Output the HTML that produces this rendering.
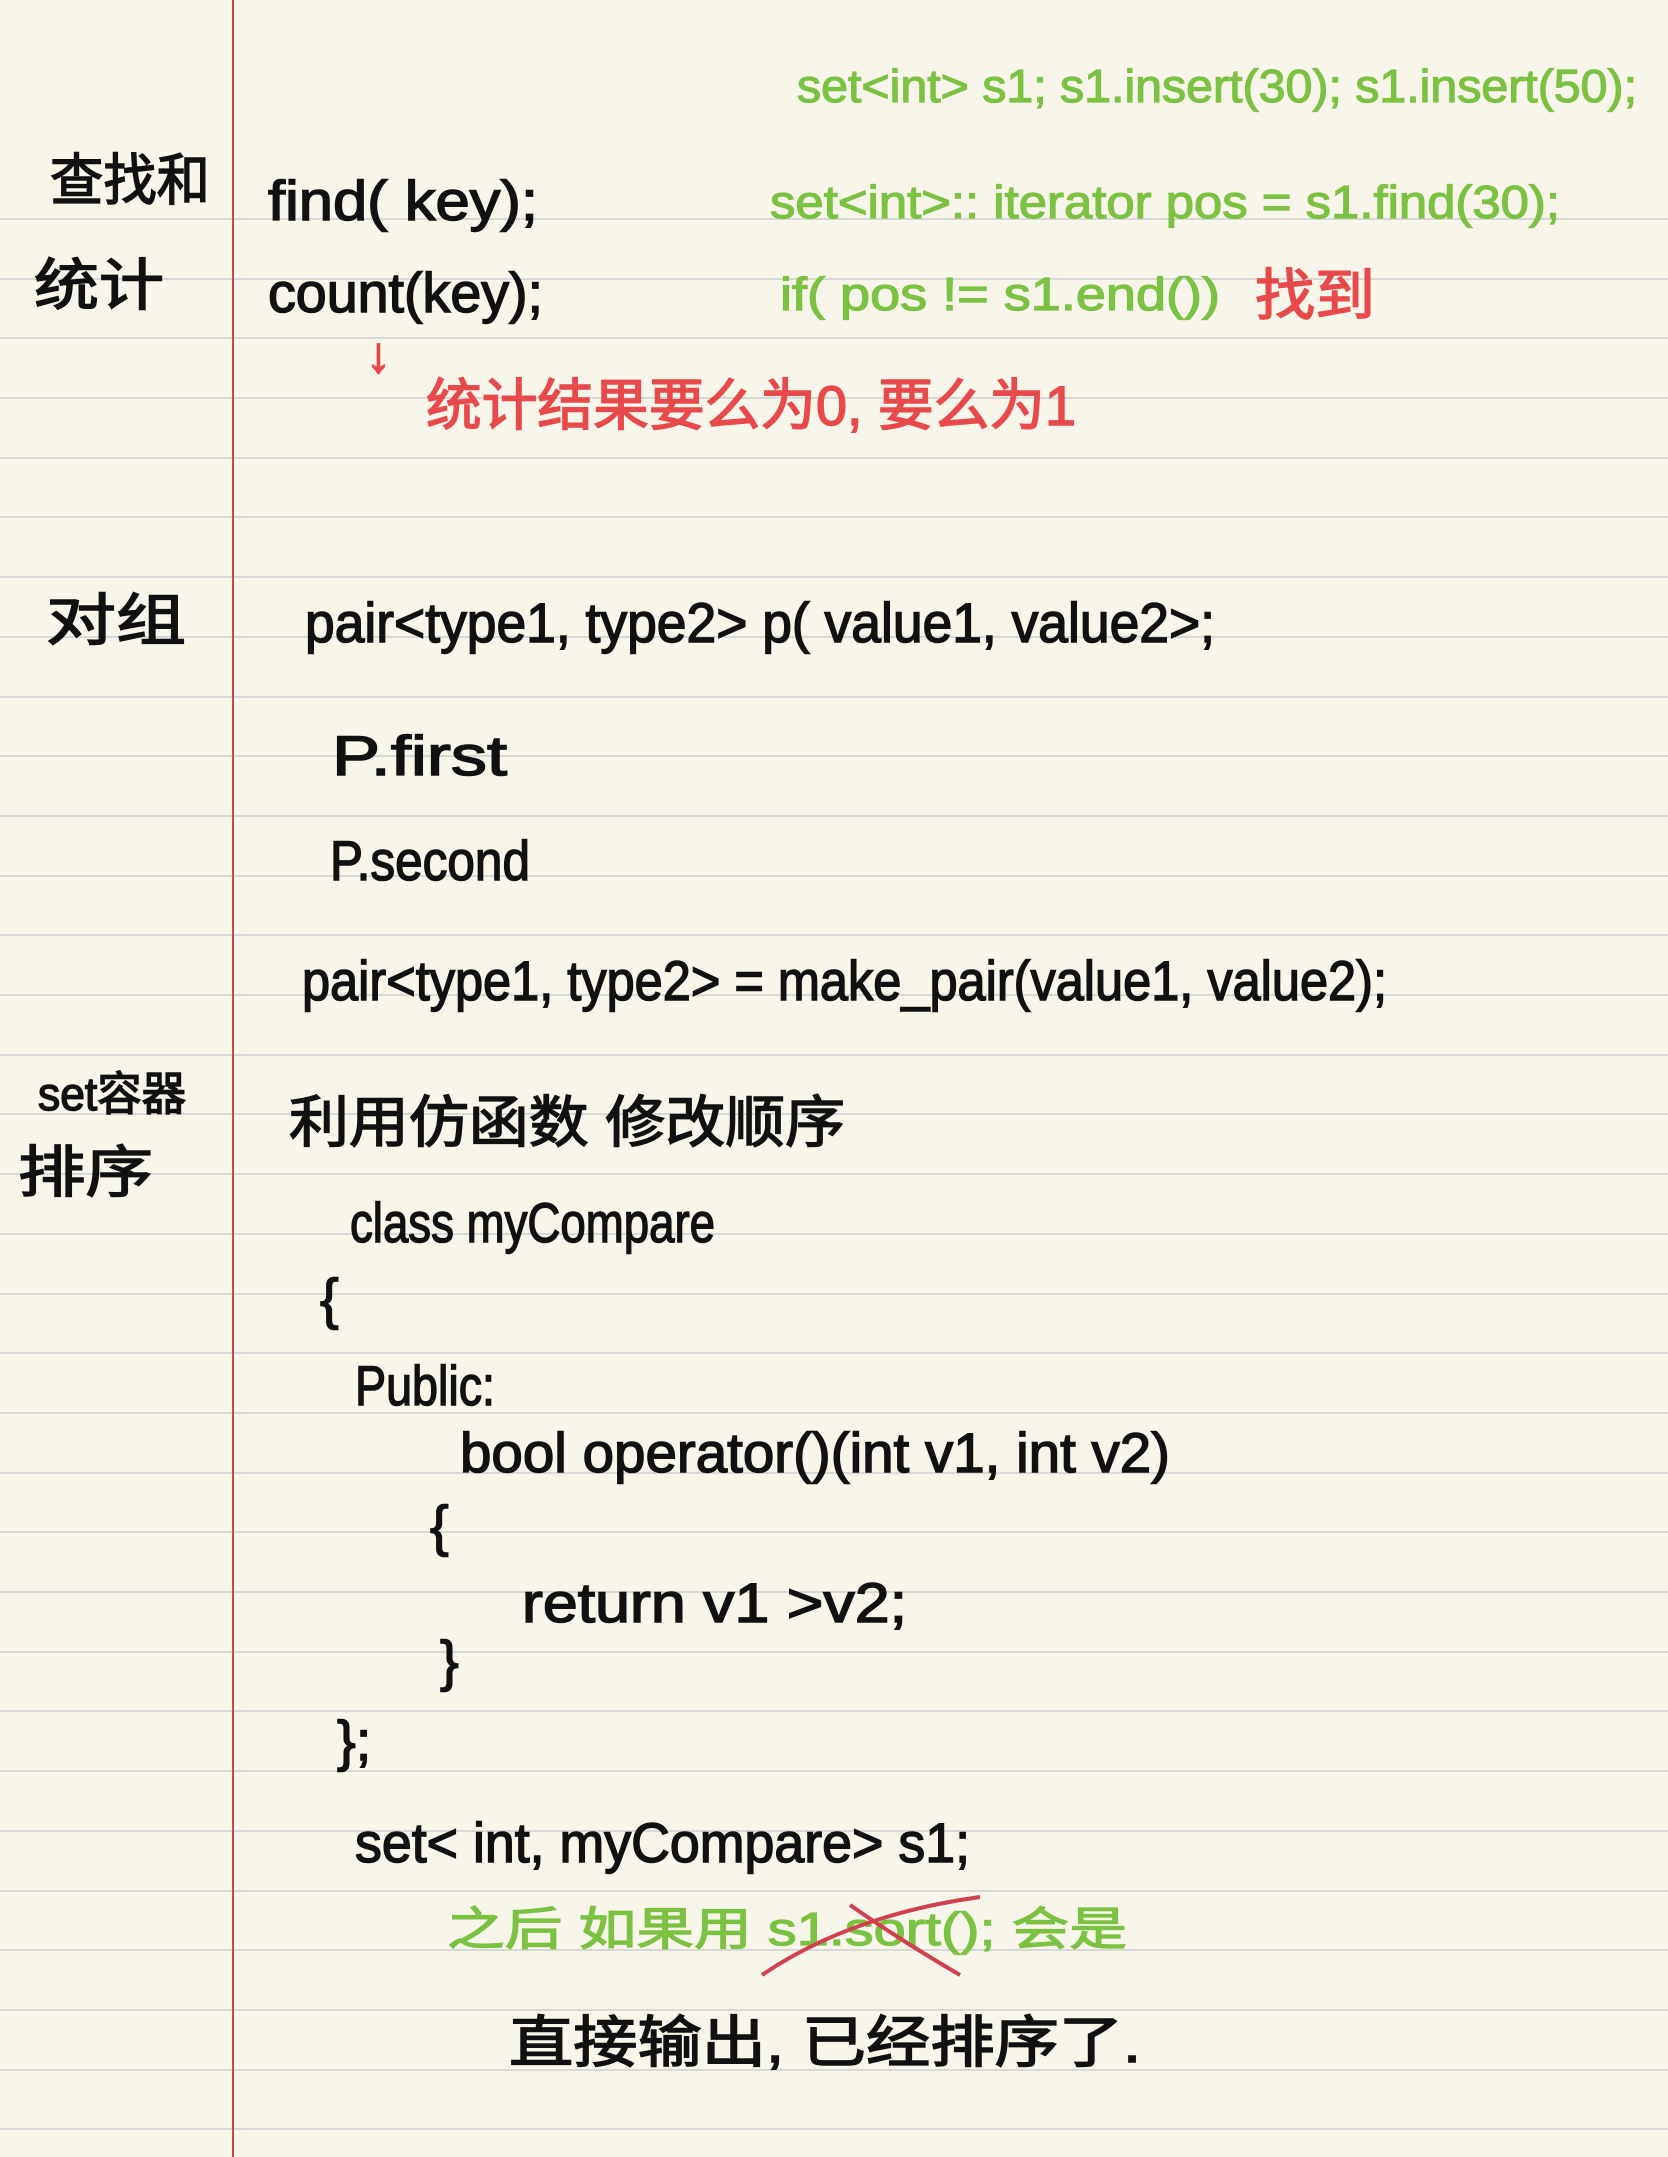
<!DOCTYPE html>
<html><head><meta charset="utf-8"><style>
html,body{margin:0;padding:0;background:#f8f5ea}
svg{display:block}
text{font-family:"Liberation Sans","Noto Sans CJK SC",sans-serif}
</style></head><body>
<svg width="1668" height="2157" viewBox="0 0 1668 2157" xmlns="http://www.w3.org/2000/svg">
<rect width="1668" height="2157" fill="#f8f5ea"/>
<g stroke="#d8d8d6" stroke-width="2">
<line x1="0" y1="219" x2="1668" y2="219"/><line x1="0" y1="279" x2="1668" y2="279"/>
<line x1="0" y1="338" x2="1668" y2="338"/><line x1="0" y1="398" x2="1668" y2="398"/>
<line x1="0" y1="458" x2="1668" y2="458"/><line x1="0" y1="517" x2="1668" y2="517"/>
<line x1="0" y1="577" x2="1668" y2="577"/><line x1="0" y1="637" x2="1668" y2="637"/>
<line x1="0" y1="697" x2="1668" y2="697"/><line x1="0" y1="756" x2="1668" y2="756"/>
<line x1="0" y1="816" x2="1668" y2="816"/><line x1="0" y1="876" x2="1668" y2="876"/>
<line x1="0" y1="935" x2="1668" y2="935"/><line x1="0" y1="995" x2="1668" y2="995"/>
<line x1="0" y1="1055" x2="1668" y2="1055"/><line x1="0" y1="1114" x2="1668" y2="1114"/>
<line x1="0" y1="1174" x2="1668" y2="1174"/><line x1="0" y1="1234" x2="1668" y2="1234"/>
<line x1="0" y1="1294" x2="1668" y2="1294"/><line x1="0" y1="1353" x2="1668" y2="1353"/>
<line x1="0" y1="1413" x2="1668" y2="1413"/><line x1="0" y1="1473" x2="1668" y2="1473"/>
<line x1="0" y1="1532" x2="1668" y2="1532"/><line x1="0" y1="1592" x2="1668" y2="1592"/>
<line x1="0" y1="1652" x2="1668" y2="1652"/><line x1="0" y1="1711" x2="1668" y2="1711"/>
<line x1="0" y1="1771" x2="1668" y2="1771"/><line x1="0" y1="1831" x2="1668" y2="1831"/>
<line x1="0" y1="1891" x2="1668" y2="1891"/><line x1="0" y1="1950" x2="1668" y2="1950"/>
<line x1="0" y1="2010" x2="1668" y2="2010"/><line x1="0" y1="2070" x2="1668" y2="2070"/>
<line x1="0" y1="2129" x2="1668" y2="2129"/>
</g>
<line x1="233" y1="0" x2="233" y2="2157" stroke="#d0404f" stroke-width="2"/>

<g fill="#7cc242" stroke="#7cc242" stroke-width="1.2" font-size="46">
<text x="797" y="102" textLength="840" lengthAdjust="spacingAndGlyphs">set&lt;int&gt; s1;  s1.insert(30);  s1.insert(50);</text>
<text x="770" y="218" textLength="790" lengthAdjust="spacingAndGlyphs">set&lt;int&gt;:: iterator  pos = s1.find(30);</text>
<text x="780" y="310" textLength="440" lengthAdjust="spacingAndGlyphs">if( pos != s1.end())</text>
<text x="447" y="1945" textLength="680" lengthAdjust="spacingAndGlyphs">之后 如果用  s1.sort(); 会是</text>
</g>
<path d="M762 1975 Q850 1915 980 1897 M850 1905 Q900 1940 960 1975" stroke="#d0404f" stroke-width="4" fill="none"/>

<g fill="#e8494a" stroke="#e8494a" stroke-width="1.5" font-size="56">
<text x="1255" y="315" textLength="120" lengthAdjust="spacingAndGlyphs">找到</text>
<text x="366" y="372" font-size="50">↓</text>
<text x="426" y="425" textLength="650" lengthAdjust="spacingAndGlyphs">统计结果要么为0, 要么为1</text>
</g>

<g fill="#111" stroke="#111" stroke-width="1.5" font-size="56">
<text x="50" y="200" textLength="160" lengthAdjust="spacingAndGlyphs">查找和</text>
<text x="34" y="305" textLength="130" lengthAdjust="spacingAndGlyphs">统计</text>
<text x="268" y="220" textLength="270" lengthAdjust="spacingAndGlyphs">find( key);</text>
<text x="268" y="312" textLength="275" lengthAdjust="spacingAndGlyphs">count(key);</text>
<text x="46" y="640" textLength="140" lengthAdjust="spacingAndGlyphs">对组</text>
<text x="305" y="642" textLength="910" lengthAdjust="spacingAndGlyphs">pair&lt;type1, type2&gt; p( value1,  value2&gt;;</text>
<text x="332" y="775" textLength="175" lengthAdjust="spacingAndGlyphs">P.first</text>
<text x="330" y="880" textLength="200" lengthAdjust="spacingAndGlyphs">P.second</text>
<text x="302" y="1000" textLength="1085" lengthAdjust="spacingAndGlyphs">pair&lt;type1, type2&gt; = make_pair(value1,  value2);</text>
<text x="38" y="1110" font-size="46" textLength="148" lengthAdjust="spacingAndGlyphs">set容器</text>
<text x="18" y="1192" textLength="135" lengthAdjust="spacingAndGlyphs">排序</text>
<text x="289" y="1142" textLength="556" lengthAdjust="spacingAndGlyphs">利用仿函数 修改顺序</text>
<text x="350" y="1242" textLength="365" lengthAdjust="spacingAndGlyphs">class   myCompare</text>
<text x="320" y="1318">{</text>
<text x="355" y="1405" textLength="140" lengthAdjust="spacingAndGlyphs">Public:</text>
<text x="460" y="1472" textLength="710" lengthAdjust="spacingAndGlyphs">bool    operator()(int v1, int v2)</text>
<text x="430" y="1545">{</text>
<text x="522" y="1622" textLength="385" lengthAdjust="spacingAndGlyphs">return    v1 &gt;v2;</text>
<text x="440" y="1680">}</text>
<text x="337" y="1760">};</text>
<text x="355" y="1862" textLength="615" lengthAdjust="spacingAndGlyphs">set&lt; int, myCompare&gt; s1;</text>
<text x="509" y="2062" textLength="632" lengthAdjust="spacingAndGlyphs">直接输出,    已经排序了.</text>
</g>
</svg>
</body></html>
